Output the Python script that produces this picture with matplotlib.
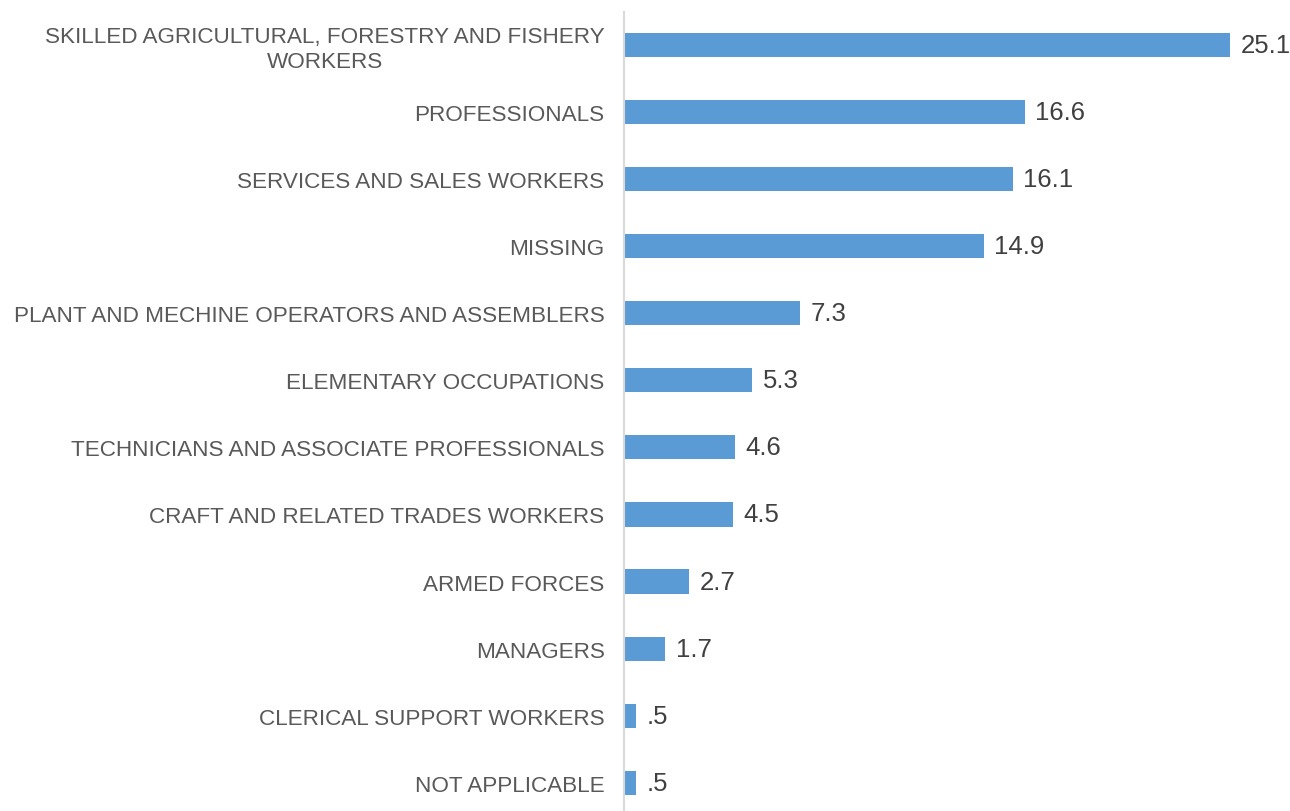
import matplotlib.pyplot as plt
import numpy as np

plt.rcParams['font.family'] = ['Liberation Sans', 'DejaVu Sans']

# Data
occupations = [
    'SKILLED AGRICULTURAL, FORESTRY AND FISHERY\nWORKERS',
    'PROFESSIONALS',
    'SERVICES AND SALES WORKERS',
    'MISSING',
    'PLANT AND MECHINE OPERATORS AND ASSEMBLERS',
    'ELEMENTARY OCCUPATIONS',
    'TECHNICIANS AND ASSOCIATE PROFESSIONALS',
    'CRAFT AND RELATED TRADES WORKERS',
    'ARMED FORCES',
    'MANAGERS',
    'CLERICAL SUPPORT WORKERS',
    'NOT APPLICABLE',
]
shares = [25.1, 16.6, 16.1, 14.9, 7.3, 5.3, 4.6, 4.5, 2.7, 1.7, 0.5, 0.5]

bar_blue = '#5B9BD5'

fig = plt.figure(figsize=(12.9, 8.12), dpi=100)
ax = fig.add_axes([624 / 1290, 0, 1 - 624 / 1290, 1 - 13 / 812])

y_pos = np.arange(len(occupations))
bars = ax.barh(y_pos, shares, height=0.36, color=bar_blue)

ax.set_xlim(0, 27.6)
ax.set_ylim(11.42, -0.49)
ax.set_yticks(y_pos)
ax.set_yticklabels(occupations, fontsize=16.2, color='#595959', multialignment='center')
ax.tick_params(axis='y', length=0, pad=14)
ax.set_xticks([])

for side in ['top', 'right', 'bottom']:
    ax.spines[side].set_visible(False)
ax.spines['left'].set_color('#D9D9D9')
ax.spines['left'].set_linewidth(1.5)

# value labels, Excel-style (no leading zero)
for bar, val in zip(bars, shares):
    txt = f'{val:.1f}'
    if txt.startswith('0'):
        txt = txt[1:]
    ax.text(bar.get_width() + 0.45, bar.get_y() + bar.get_height() / 2, txt,
            ha='left', va='center', fontsize=18.5, color='#404040', clip_on=False)

plt.savefig('out.png', dpi=100, facecolor='white')
